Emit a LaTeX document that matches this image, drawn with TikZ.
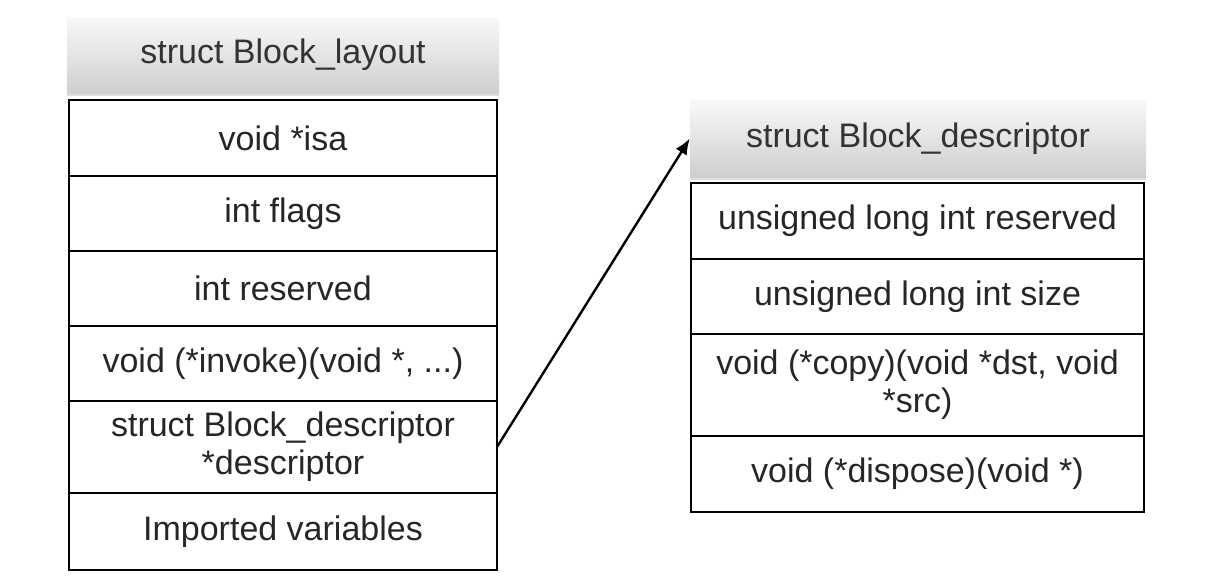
\documentclass[tikz,border=0pt]{standalone}
\usepackage{fontspec}
\setmainfont{Liberation Sans}
\usetikzlibrary{positioning,arrows.meta,shadows}
\begin{document}
\begin{tikzpicture}[x=1pt,y=-1pt, every node/.style={font=\fontsize{34}{38}\selectfont}]
\tikzset{
  header/.style={top color=gray!5, bottom color=gray!38, minimum height=76pt, inner sep=0pt, text=black!80,
    drop shadow={opacity=0.25, shadow xshift=0pt, shadow yshift=-3pt}},
  field/.style={draw, line width=2.4pt, inner sep=0pt, outer sep=0pt, align=center, text=black!85}
}
\useasboundingbox (0,0) rectangle (1206,584);
% struct Block_layout
\node[header, minimum width=432pt] (blhdr) at (283,55) {struct Block\_layout};
\node[field, minimum width=428pt, minimum height=76pt] (isa) at (283,138) {void *isa};
\node[field, minimum width=428pt, minimum height=75pt, below=0pt of isa] (flags) {int flags};
\node[field, minimum width=428pt, minimum height=75pt, below=0pt of flags] (reserved) {int reserved};
\node[field, minimum width=428pt, minimum height=75pt, below=0pt of reserved] (invoke) {void (*invoke)(void *, ...)};
\node[field, minimum width=428pt, minimum height=92pt, below=0pt of invoke] (desc) {struct Block\_descriptor\\*descriptor};
\node[field, minimum width=428pt, minimum height=77pt, below=0pt of desc] (imported) {Imported variables};
% struct Block_descriptor
\node[header, minimum width=456pt, minimum height=77pt] (bdhdr) at (918,138.5) {struct Block\_descriptor};
\node[field, minimum width=453pt, minimum height=76pt] (dreserved) at (917.5,221) {unsigned long int reserved};
\node[field, minimum width=453pt, minimum height=75pt, below=0pt of dreserved] (dsize) {unsigned long int size};
\node[field, minimum width=453pt, minimum height=102pt, below=0pt of dsize] (dcopy) {void (*copy)(void *dst, void\\*src)};
\node[field, minimum width=453pt, minimum height=76pt, below=0pt of dcopy] (ddispose) {void (*dispose)(void *)};
% pointer
\draw[line width=2.4pt, -{Latex[length=16pt,width=13pt]}] (desc.east) -- (bdhdr.west);
\end{tikzpicture}
\end{document}
